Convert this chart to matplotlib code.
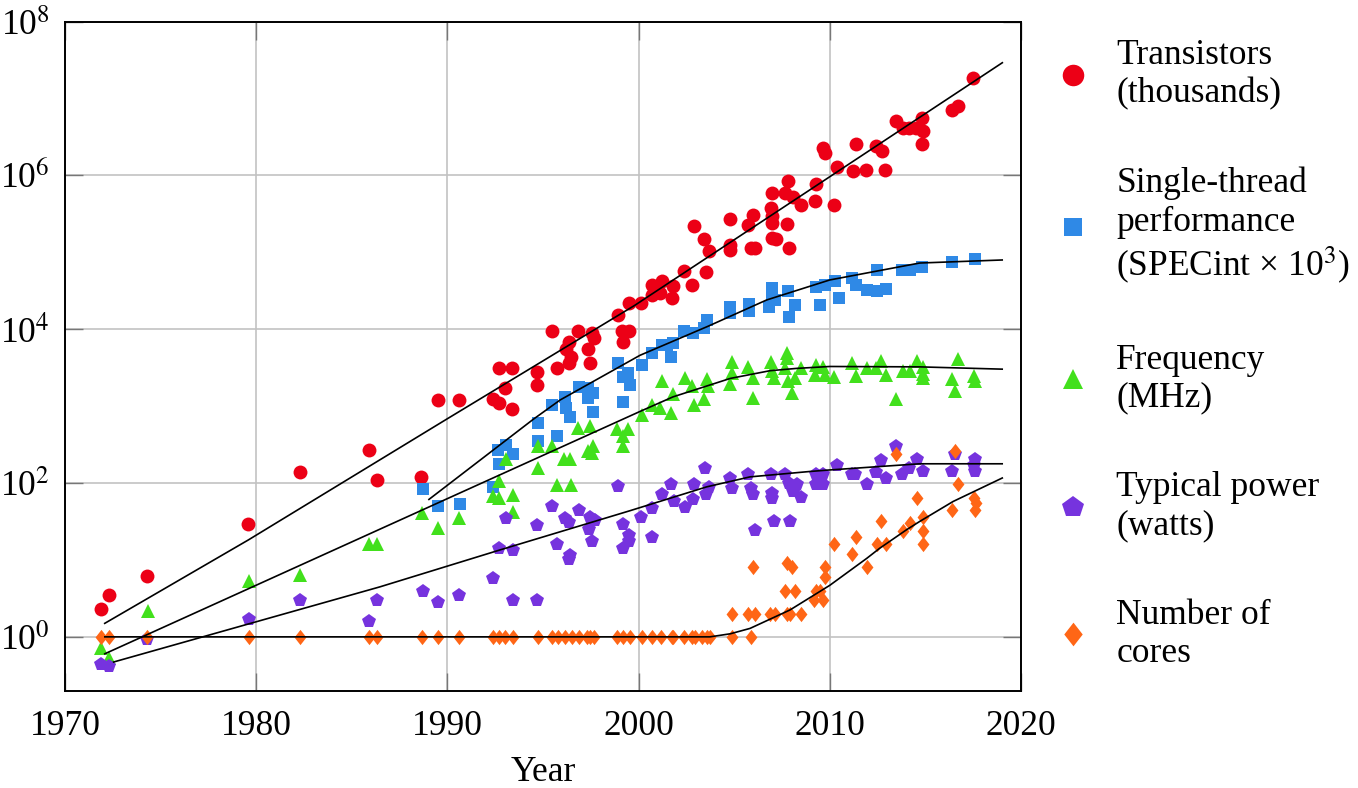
import numpy as np
import matplotlib
matplotlib.use("Agg")
import matplotlib.pyplot as plt
from matplotlib.lines import Line2D
from matplotlib.path import Path

plt.rcParams['font.family'] = ['Liberation Serif', 'DejaVu Serif']
plt.rcParams['mathtext.fontset'] = 'stix'

# ---------------- data (exponents are powers of ten) ----------------
trans_years = [1971.9, 1972.3, 1974.3, 1979.57, 1982.3, 1985.9, 1986.3, 1988.6, 1989.5, 1990.6,
               1992.4, 1992.7, 1993.0, 1993.4, 1992.7, 1993.4, 1994.7, 1994.7, 1995.75, 1995.45,
               1996.36, 1996.2, 1996.45, 1996.36, 1996.85, 1997.56, 1997.65, 1997.37, 1997.47, 1998.9,
               1999.15, 1999.5, 1999.2, 1999.5, 2000.1, 2000.68, 2000.68, 2001.2, 2001.1, 2001.73,
               2001.8, 2002.4, 2002.8, 2003.5, 2002.9, 2003.4, 2003.7, 2004.8, 2004.8, 2004.8,
               2005.7, 2006.0, 2005.9, 2006.1, 2007.0, 2006.9, 2007.0, 2007.0, 2006.96, 2007.17,
               2007.8, 2007.66, 2008.1, 2008.5, 2007.74, 2007.87, 2009.2, 2009.3, 2009.66, 2009.75,
               2010.2, 2010.4, 2011.2, 2011.9, 2012.9, 2011.35, 2012.4, 2012.75, 2013.45, 2013.85,
               2014.16, 2014.5, 2014.8, 2014.9, 2014.8, 2016.4, 2016.7, 2017.5]
trans_exp = [0.36, 0.55, 0.79, 1.47, 2.14, 2.43, 2.04, 2.08, 3.08, 3.08,
             3.09, 3.04, 3.23, 2.96, 3.49, 3.49, 3.44, 3.28, 3.49, 3.98,
             3.83, 3.74, 3.64, 3.56, 3.98, 3.95, 3.88, 3.74, 3.56, 4.18,
             3.98, 3.97, 3.83, 4.34, 4.34, 4.57, 4.44, 4.63, 4.47, 4.41,
             4.56, 4.75, 4.58, 4.74, 5.34, 5.17, 5.02, 5.43, 5.09, 5.03,
             5.36, 5.48, 5.05, 5.06, 5.77, 5.58, 5.47, 5.38, 5.18, 5.17,
             5.92, 5.77, 5.72, 5.61, 5.37, 5.06, 5.66, 5.89, 6.36, 6.29,
             5.61, 6.11, 6.06, 6.07, 6.07, 6.41, 6.38, 6.32, 6.70, 6.62,
             6.62, 6.61, 6.75, 6.57, 6.41, 6.85, 6.90, 7.27]

perf_years = [1988.7, 1989.5, 1990.66, 1992.4, 1992.7, 1992.66, 1993.05, 1993.45, 1994.75, 1994.75,
              1995.75, 1995.45, 1996.2, 1996.4, 1996.15, 1996.9, 1997.37, 1997.6, 1997.37, 1997.6,
              1998.9, 1999.2, 1999.46, 1999.55, 1999.2, 2000.2, 2000.7, 2001.2, 2001.46, 2001.7,
              2001.8, 2002.4, 2002.86, 2003.4, 2003.6, 2004.8, 2004.8, 2005.8, 2005.8, 2006.8,
              2006.96, 2007.0, 2007.13, 2007.83, 2008.18, 2007.85, 2009.3, 2009.75, 2009.5, 2010.27,
              2010.5, 2011.18, 2011.35, 2011.93, 2012.45, 2012.94, 2012.45, 2013.76, 2014.2, 2014.84,
              2016.37, 2017.6]
perf_exp = [1.92, 1.70, 1.73, 1.95, 2.25, 2.43, 2.50, 2.38, 2.78, 2.54,
            2.61, 3.01, 2.98, 2.86, 3.12, 3.25, 3.23, 3.17, 3.10, 2.92,
            3.56, 3.38, 3.43, 3.27, 3.05, 3.53, 3.69, 3.79, 3.79, 3.64,
            3.82, 3.97, 3.95, 4.01, 4.12, 4.29, 4.21, 4.33, 4.23, 4.29,
            4.40, 4.53, 4.38, 4.50, 4.31, 4.16, 4.55, 4.57, 4.31, 4.63,
            4.41, 4.66, 4.57, 4.51, 4.49, 4.52, 4.77, 4.77, 4.77, 4.81,
            4.87, 4.91]

freq_years = [1971.87, 1972.3, 1974.36, 1979.6, 1982.3, 1985.9, 1986.3, 1988.65, 1989.5, 1990.6,
              1992.4, 1992.7, 1993.45, 1992.7, 1993.05, 1993.45, 1994.75, 1994.75, 1995.45, 1995.75,
              1996.45, 1996.1, 1996.4, 1996.85, 1997.46, 1997.37, 1997.63, 1997.58, 1998.85, 1999.46,
              1999.2, 1999.17, 2000.2, 2000.68, 2001.1, 2001.7, 2001.24, 2001.78, 2002.43, 2002.8,
              2002.9, 2003.44, 2003.56, 2003.65, 2004.87, 2004.87, 2004.8, 2005.74, 2006.0, 2006.0,
              2006.9, 2007.0, 2007.08, 2007.74, 2007.78, 2007.66, 2007.83, 2008.18, 2008.0, 2008.48,
              2009.28, 2009.22, 2009.66, 2009.75, 2010.22, 2011.18, 2011.35, 2011.93, 2012.4, 2012.7,
              2012.94, 2013.45, 2013.85, 2014.2, 2014.54, 2014.86, 2014.86, 2014.86, 2016.37, 2016.55,
              2016.72, 2017.54, 2017.6]
freq_exp = [-0.14, -0.27, 0.33, 0.72, 0.80, 1.21, 1.21, 1.61, 1.41, 1.54,
            1.83, 1.80, 1.84, 2.02, 2.31, 1.62, 2.48, 2.19, 2.48, 1.97,
            1.97, 2.31, 2.31, 2.72, 2.74, 2.41, 2.48, 2.39, 2.70, 2.70,
            2.61, 2.48, 2.88, 3.01, 2.97, 2.91, 3.32, 3.16, 3.36, 3.26,
            3.01, 3.09, 3.35, 3.26, 3.57, 3.43, 3.29, 3.51, 3.36, 3.10,
            3.57, 3.45, 3.37, 3.69, 3.62, 3.49, 3.32, 3.36, 3.17, 3.49,
            3.53, 3.40, 3.51, 3.40, 3.38, 3.56, 3.39, 3.49, 3.49, 3.58,
            3.40, 3.09, 3.45, 3.46, 3.58, 3.51, 3.42, 3.36, 3.35, 3.20,
            3.61, 3.39, 3.33]

power_years = [1971.87, 1972.3, 1974.3, 1979.6, 1982.3, 1985.9, 1986.3, 1988.7, 1989.5, 1990.6,
               1992.4, 1992.7, 1993.45, 1993.05, 1993.45, 1994.7, 1994.7, 1995.45, 1995.75, 1996.15,
               1996.36, 1996.4, 1996.36, 1996.9, 1997.4, 1997.58, 1997.46, 1997.72, 1998.9, 1999.2,
               1999.5, 1999.5, 1999.2, 2000.1, 2000.68, 2000.68, 2001.2, 2001.7, 2001.85, 2002.43,
               2002.9, 2002.86, 2003.47, 2003.68, 2003.5, 2004.8, 2004.87, 2005.74, 2005.86, 2006.0,
               2006.1, 2006.9, 2007.0, 2006.96, 2007.08, 2007.9, 2007.66, 2007.88, 2008.18, 2008.27,
               2008.1, 2008.48, 2009.28, 2009.66, 2009.28, 2009.66, 2010.4, 2011.18, 2011.3, 2011.93,
               2012.4, 2012.7, 2012.94, 2013.45, 2013.8, 2014.16, 2014.54, 2014.86, 2016.37, 2016.55,
               2017.6, 2017.54, 2017.6]
power_exp = [-0.355, -0.38, -0.03, 0.23, 0.48, 0.20, 0.48, 0.59, 0.45, 0.54,
             0.77, 1.16, 1.13, 1.55, 0.48, 1.45, 0.48, 1.70, 1.21, 1.54,
             1.49, 1.06, 1.01, 1.65, 1.40, 1.24, 1.56, 1.52, 1.96, 1.47,
             1.32, 1.24, 1.15, 1.56, 1.68, 1.30, 1.86, 1.99, 1.76, 1.69,
             1.99, 1.79, 2.19, 1.95, 1.86, 2.07, 1.93, 2.12, 1.93, 1.86,
             1.39, 2.12, 1.87, 1.81, 1.50, 1.50, 2.12, 2.00, 1.95, 1.99,
             1.89, 1.82, 2.12, 2.12, 1.99, 1.99, 2.23, 2.12, 2.12, 1.99,
             2.14, 2.30, 2.06, 2.48, 2.12, 2.19, 2.31, 2.15, 2.16, 2.38,
             2.31, 2.23, 2.15]

cores_years = [1971.9, 1972.3, 1974.3, 1979.6, 1982.3, 1985.9, 1986.3, 1988.65, 1989.5, 1990.6,
               1992.4, 1992.7, 1993.0, 1993.45, 1994.75, 1995.45, 1995.8, 1996.15, 1996.5, 1996.9,
               1997.28, 1997.46, 1997.67, 1998.85, 1999.2, 1999.55, 2000.2, 2000.7, 2001.15, 2001.73,
               2001.8, 2002.4, 2002.77, 2002.95, 2003.33, 2003.56, 2003.73, 2004.9, 2005.86,
               2004.87, 2005.74, 2006.1, 2006.0, 2006.87, 2007.13, 2007.74, 2007.9, 2008.5, 2007.66,
               2008.18, 2007.74, 2008.0, 2009.17, 2009.3, 2009.5, 2009.66, 2009.75, 2009.75, 2010.2,
               2011.18, 2011.35, 2011.93, 2012.45, 2012.94, 2012.7, 2013.45, 2013.85, 2014.2, 2014.54,
               2014.86, 2014.86, 2014.86, 2016.37, 2016.55, 2016.72, 2017.54, 2017.63, 2017.6]
cores = [1, 1, 1, 1, 1, 1, 1, 1, 1, 1,
         1, 1, 1, 1, 1, 1, 1, 1, 1, 1,
         1, 1, 1, 1, 1, 1, 1, 1, 1, 1,
         1, 1, 1, 1, 1, 1, 1, 1, 1,
         2, 2, 2, 8, 2, 2, 2, 2, 2, 4,
         4, 9, 8, 3, 4, 4, 3, 6, 8, 16,
         12, 20, 8, 16, 16, 32, 240, 24, 30, 63,
         36, 24, 16, 44, 260, 96, 64, 55, 44]

# trend curves
trans_fit_years = [1972.04, 1979.59, 1989.96, 1999.8, 2009.5, 2019.06]
trans_fit_exp = [0.17, 1.26, 2.83, 4.31, 5.90, 7.47]
perf_fit_years = [1989.0, 1994.5, 1995.9, 2000.07, 2003.65, 2006.7, 2010.0, 2014.7, 2019.06]
perf_fit_exp = [1.78, 2.83, 3.08, 3.66, 4.04, 4.38, 4.64, 4.86, 4.90]
freq_fit_years = [1972.04, 1986.47, 2000.07, 2001.8, 2004.8, 2006.87, 2008.26, 2010.0, 2014.7, 2019.06]
freq_fit_exp = [-0.225, 1.40, 2.93, 3.12, 3.36, 3.46, 3.49, 3.515, 3.51, 3.48]
power_fit_years = [1972.5, 1986.47, 1992.75, 1999.55, 2003.56, 2005.83, 2008.96, 2010.0, 2014.7, 2019.06]
power_fit_exp = [-0.33, 0.65, 1.13, 1.64, 1.95, 2.08, 2.15, 2.17, 2.25, 2.25]
cores_fit_years = [1972.04, 2003.73, 2004.8, 2005.83, 2007.92, 2010.0, 2011.93, 2012.6, 2014.0, 2014.7, 2016.45, 2019.06]
cores_fit_exp = [0.0, 0.0, 0.04, 0.11, 0.35, 0.67, 1.02, 1.15, 1.39, 1.50, 1.76, 2.07]

labels = ["Transistors\n(thousands)",
          "Single-thread\nperformance\n(SPECint \u00d7 10$^{3}$)",
          "Frequency\n(MHz)",
          "Typical power\n(watts)",
          "Number of\ncores"]
x_ticks = [1970, 1980, 1990, 2000, 2010, 2020]
y_tick_exps = [0, 2, 4, 6, 8]

# ---------------- styling ----------------
red, blue, green, purple, orange = '#EC0016', '#2F89E6', '#42E01C', '#7633DE', '#FF6616'
FS = 25.5
diamond = Path([(0, 1), (0.78, 0), (0, -1), (-0.78, 0), (0, 1)],
               [Path.MOVETO, Path.LINETO, Path.LINETO, Path.LINETO, Path.CLOSEPOLY])
ms = dict(o=10.0, s=8.8, t=9.6, p=10.4, d=11.0)

fig = plt.figure(figsize=(13.58, 7.88), dpi=100)
ax = fig.add_axes([65/1358, 1-690.7/788, (1021-65)/1358, (690.7-21.5)/788])

pw = dict(linestyle='none', markeredgewidth=0)
ax.plot(trans_years, 10**np.array(trans_exp), 'o', color=red, markersize=ms['o'], zorder=3, **pw)
ax.plot(perf_years, 10**np.array(perf_exp), 's', color=blue, markersize=ms['s'], zorder=3, **pw)
ax.plot(freq_years, 10**np.array(freq_exp), '^', color=green, markersize=ms['t'], zorder=3, **pw)
ax.plot(power_years, 10**np.array(power_exp), 'p', color=purple, markersize=ms['p'], zorder=3, **pw)
ax.plot(cores_years, cores, marker=diamond, color=orange, markersize=ms['d'], zorder=3, **pw)

lw = 1.2
for xs, es in [(trans_fit_years, trans_fit_exp), (perf_fit_years, perf_fit_exp),
               (freq_fit_years, freq_fit_exp), (power_fit_years, power_fit_exp),
               (cores_fit_years, cores_fit_exp)]:
    ax.plot(xs, 10**np.array(es), color='black', linewidth=lw, zorder=4, solid_capstyle='butt')

ax.set_yscale('log')
ax.set_xlim(1970, 2020)
ax.set_ylim(10**-0.7, 1e8)
ax.set_xticks(x_ticks)
ax.set_xticklabels([str(v) for v in x_ticks])
ax.set_yticks([10.0**e for e in y_tick_exps])
ax.set_yticklabels(['10$^{%d}$' % e for e in y_tick_exps])
ax.yaxis.set_minor_locator(matplotlib.ticker.NullLocator())
ax.grid(True, color='#c2c2c2', linewidth=1.2, zorder=0)
ax.set_axisbelow(True)
ax.tick_params(direction='in', length=13, width=1.0, color='#777777',
               top=True, right=True, labelsize=FS, pad=11)
ax.tick_params(axis='x', pad=14)
for s in ax.spines.values():
    s.set_linewidth(1.4)
ax.set_xlabel('Year', fontsize=FS, labelpad=9)

handles = [Line2D([], [], marker='o', color=red, markersize=ms['o'], **pw),
           Line2D([], [], marker='s', color=blue, markersize=ms['s'], **pw),
           Line2D([], [], marker='^', color=green, markersize=ms['t'], **pw),
           Line2D([], [], marker='p', color=purple, markersize=ms['p'], **pw),
           Line2D([], [], marker=diamond, color=orange, markersize=ms['d'], **pw)]
fig.legend(handles, labels, loc='upper left', bbox_to_anchor=(1055/1358, 1-39/788),
           frameon=False, fontsize=FS, markerscale=1.55, handlelength=1.0,
           handletextpad=0.73, labelspacing=1.6, borderpad=0, borderaxespad=0)

fig.savefig('out.png', dpi=100)
